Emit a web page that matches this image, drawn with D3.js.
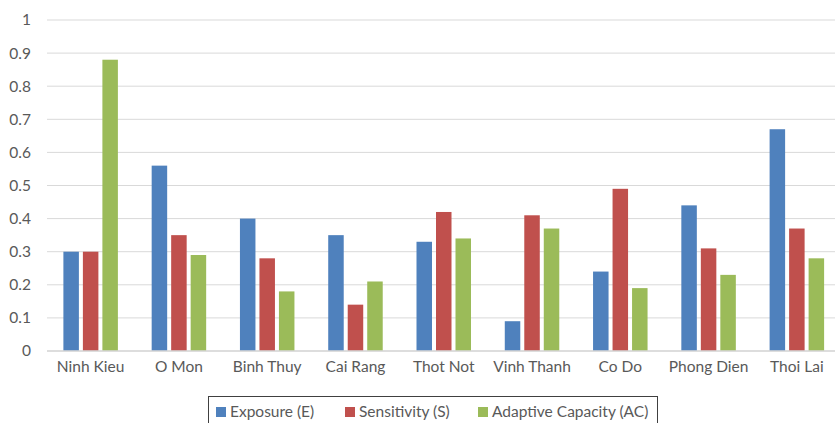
<!DOCTYPE html>
<html><head><meta charset="utf-8">
<script src="https://cdn.jsdelivr.net/npm/d3@7"></script>
<style>body{margin:0;background:#fff;} svg{display:block;}</style>
</head><body>
<svg id="c" width="835" height="423"></svg>
<script>
const categories = ["Ninh Kieu","O Mon","Binh Thuy","Cai Rang","Thot Not","Vinh Thanh","Co Do","Phong Dien","Thoi Lai"];
const exposure = [0.30,0.56,0.40,0.35,0.33,0.09,0.24,0.44,0.67];
const sensitivity = [0.30,0.35,0.28,0.14,0.42,0.41,0.49,0.31,0.37];
const adaptive = [0.88,0.29,0.18,0.21,0.34,0.37,0.19,0.23,0.28];
const seriesNames = ["Exposure (E)","Sensitivity (S)","Adaptive Capacity (AC)"];
const colors = ["#4F81BD","#C0504D","#9BBB59"];
const yTicks = [0,0.1,0.2,0.3,0.4,0.5,0.6,0.7,0.8,0.9,1];

const series = [exposure, sensitivity, adaptive];
const svg = d3.select("#c");
const font = "Lato, 'Open Sans', sans-serif";
const fs = 15.5;
const x = d3.scaleBand().domain(categories).range([46.5, 841]);
const y = d3.scaleLinear().domain([0,1]).range([351, 20]);
const barW = 15.5, step = 19.5;

// gridlines
svg.append("g").selectAll("line").data(yTicks).join("line")
  .attr("x1", 47).attr("x2", 835)
  .attr("y1", d => y(d)).attr("y2", d => y(d))
  .attr("stroke", "#d9d9d9").attr("stroke-width", 1);

// y axis labels
const yAxis = d3.axisLeft(y).tickValues(yTicks).tickSize(0).tickPadding(0).tickFormat(d => d3.format("")(+d.toFixed(1)));
const ya = svg.append("g").attr("transform", "translate(31,0)").call(yAxis);
ya.select(".domain").remove();
ya.selectAll("text").attr("font-family", font).attr("font-size", fs).attr("fill", "#595959");

// bars
series.forEach((vals, si) => {
  svg.append("g").selectAll("rect").data(vals).join("rect")
    .attr("x", (d,i) => x(categories[i]) + x.bandwidth()/2 - step - barW/2 + si*step)
    .attr("y", d => y(d))
    .attr("width", barW)
    .attr("height", d => y(0) - y(d))
    .attr("fill", colors[si]);
});

// baseline
svg.append("line").attr("x1",47).attr("x2",835).attr("y1",y(0)).attr("y2",y(0))
  .attr("stroke","#d9d9d9").attr("stroke-width",1.5);

// x axis labels
const xAxis = d3.axisBottom(x).tickSize(0).tickPadding(0);
const xa = svg.append("g").attr("transform", "translate(0,367)").call(xAxis);
xa.select(".domain").remove();
xa.selectAll("text").attr("font-family", font).attr("font-size", fs).attr("fill", "#595959").attr("dy","0.3em");

// legend
const lg = svg.append("g");
lg.append("rect").attr("x",208.5).attr("y",396.5).attr("width",449).attr("height",40)
  .attr("fill","none").attr("stroke","#404040").attr("stroke-width",1);
const legX = [216, 345, 478];
seriesNames.forEach((n,i) => {
  lg.append("rect").attr("x",legX[i]).attr("y",407).attr("width",10).attr("height",10).attr("fill",colors[i]);
  lg.append("text").attr("x",legX[i]+14).attr("y",412).attr("dy","0.35em")
    .attr("font-family",font).attr("font-size",fs).attr("fill","#595959").text(n);
});
</script>
</body></html>
